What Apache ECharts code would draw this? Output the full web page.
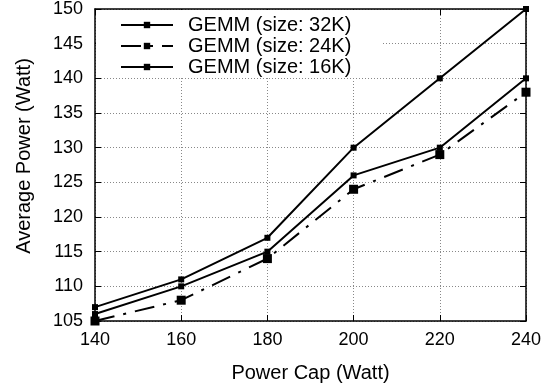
<!DOCTYPE html>
<html>
<head>
<meta charset="utf-8">
<script src="https://cdn.jsdelivr.net/npm/echarts@6/dist/echarts.min.js"></script>
<style>
html,body{margin:0;padding:0;background:#fff;}
#chart{width:557px;height:389px;}
</style>
</head>
<body>
<div id="chart"></div>
<script>
// Data
const powerCaps = [140, 160, 180, 200, 220, 240];
const gemm32K = [107, 111, 117, 130, 140, 150];
const gemm24K = [105, 108, 114, 124, 129, 138];
const gemm16K = [106, 110, 115, 126, 130, 140];
const seriesNames = ['GEMM (size: 32K)', 'GEMM (size: 24K)', 'GEMM (size: 16K)'];
const xTitle = 'Power Cap (Watt)';
const yTitle = 'Average Power (Watt)';

const FONT = '"Liberation Sans", Arial, Helvetica, sans-serif';
const pairs = vals => powerCaps.map((x, i) => [x, vals[i]]);

const chart = echarts.init(document.getElementById('chart'), null, {renderer: 'canvas'});

const axisCommon = {
  axisLine: {show: true, onZero: false, lineStyle: {color: '#000', width: 1.5}},
  axisTick: {show: true, inside: true, length: 6, lineStyle: {color: '#000', width: 1}},
};

const option = {
  animation: false,
  backgroundColor: '#fff',
  grid: {left: 95, right: 31, top: 9, bottom: 68, containLabel: false},
  legend: {
    orient: 'vertical',
    left: 96, top: 10,
    padding: [5, 30, 0, 24],
    backgroundColor: '#fff',
    itemGap: 1,
    itemWidth: 52,
    itemHeight: 8,
    data: seriesNames,
    textStyle: {fontFamily: FONT, fontSize: 20, color: '#000', lineHeight: 20, padding: [0, 0, 0, 10]}
  },
  xAxis: [
    Object.assign({
      type: 'value', min: 140, max: 240, interval: 20, position: 'bottom',
      name: xTitle, nameLocation: 'middle', nameGap: 42,
      nameTextStyle: {fontFamily: FONT, fontSize: 20, color: '#000'},
      axisLabel: {fontFamily: FONT, fontSize: 18, color: '#000', margin: 10},
      splitLine: {show: true, lineStyle: {color: '#888', width: 1, type: [1, 2]}}
    }, axisCommon),
    Object.assign({
      type: 'value', min: 140, max: 240, interval: 20, position: 'top',
      axisLabel: {show: false}, splitLine: {show: false}
    }, axisCommon)
  ],
  yAxis: [
    Object.assign({
      type: 'value', min: 105, max: 150, interval: 5, position: 'left',
      name: yTitle, nameLocation: 'middle', nameGap: 61,
      nameTextStyle: {fontFamily: FONT, fontSize: 20, color: '#000', padding: [0, 0, 0, 18]},
      axisLabel: {fontFamily: FONT, fontSize: 18, color: '#000', margin: 12},
      splitLine: {show: true, lineStyle: {color: '#888', width: 1, type: [1, 2]}}
    }, axisCommon),
    Object.assign({
      type: 'value', min: 105, max: 150, interval: 5, position: 'right',
      axisLabel: {show: false}, splitLine: {show: false}
    }, axisCommon)
  ],
  series: [
    {
      name: seriesNames[0], type: 'line', data: pairs(gemm32K),
      symbol: 'rect', symbolSize: 6,
      lineStyle: {color: '#000', width: 2, type: 'solid'},
      itemStyle: {color: '#000'}
    },
    {
      name: seriesNames[1], type: 'line', data: pairs(gemm24K),
      symbol: 'rect', symbolSize: 9,
      lineStyle: {color: '#000', width: 2, type: [20, 9, 3, 9]},
      itemStyle: {color: '#000'}
    },
    {
      name: seriesNames[2], type: 'line', data: pairs(gemm16K),
      symbol: 'rect', symbolSize: 6,
      lineStyle: {color: '#000', width: 2, type: 'solid'},
      itemStyle: {color: '#000'}
    }
  ]
};
chart.setOption(option);
</script>
</body>
</html>
